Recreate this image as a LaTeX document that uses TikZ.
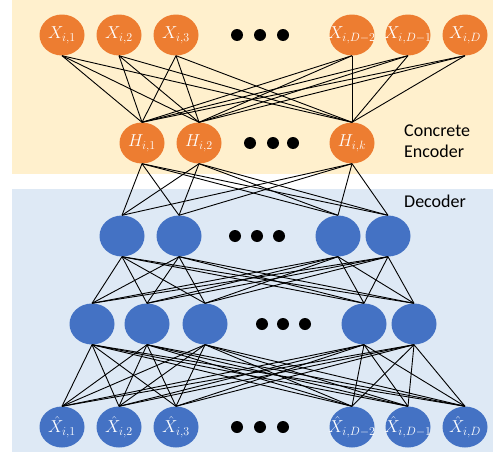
\documentclass[tikz,border=0pt]{standalone}
\usepackage{amsmath}
\usepackage{fontspec}
\setmainfont{Carlito}
\usepackage{tikz}
\usetikzlibrary{shapes,calc,positioning}
\definecolor{naranja}{RGB}{237, 125, 49}
\definecolor{azul}{RGB}{68, 114, 196}
\definecolor{fondoNaranja}{RGB}{255, 240, 205}
\definecolor{fondoAzul}{RGB}{222, 233, 245}
\tikzstyle{edge}  =[line width=0.9pt, black]
\tikzstyle{enode}=[ellipse, fill=naranja, minimum width=45pt,
                    minimum height=41pt, inner sep=0pt]
\tikzstyle{dnode}=[ellipse, fill=azul, minimum width=45pt,
                    minimum height=41pt, inner sep=0pt]
\tikzstyle{texto}=[inner sep=0pt, text=white,
                    font=\fontsize{17}{19}\selectfont]
\tikzstyle{punto}=[circle, fill=black, minimum size=12pt,
                    inner sep=0pt]
\tikzstyle{rotulo}=[anchor=north west, align=left, inner sep=0pt,
                    font=\fontsize{18}{21}\selectfont]

\begin{document}
\begin{tikzpicture}[x=1pt,y=-1pt]

    \useasboundingbox (0,0) rectangle (493,455);
    \fill[fondoNaranja] (12,0) rectangle (493,174);
    \fill[fondoAzul] (12,189) rectangle (493,452);

    % entrada
    \foreach \i/\x/\s in {1/62/1,2/119/2,3/176/3,4/352/D-2,5/408/D-1,6/465/D}{
        \draw (\x,35) node(x\i)[enode]{};
        \node (tx\i) [texto] at (x\i) {$X_{i,\s}$};
    }
    % capa concreta
    \foreach \i/\x/\s in {1/142/1,2/199/2,3/352/k}{
        \draw (\x,143) node(h\i)[enode]{};
        \node (th\i) [texto] at (h\i) {$H_{i,\s}$};
    }
    % decoder
    \foreach \i/\x in {1/122,2/179,3/338,4/388}
        \draw (\x,236) node(a\i)[dnode]{};
    \foreach \i/\x in {1/92,2/147,3/205,4/364,5/414}
        \draw (\x,324) node(b\i)[dnode]{};
    \foreach \i/\x/\s in {1/62/1,2/119/2,3/176/3,4/352/D-2,5/408/D-1,6/465/D}{
        \draw (\x,427) node(y\i)[dnode]{};
        \node (ty\i) [texto] at (y\i) {$\hat{X}_{i,\s}$};
    }

    % puntos
    \foreach \x in {237,260,283}
        \draw (\x,35) node(px\x)[punto]{};
    \foreach \x in {250,273,293}
        \draw (\x,143) node(ph\x)[punto]{};
    \foreach \x in {235,257,279}
        \draw (\x,236) node(pa\x)[punto]{};
    \foreach \x in {262,283,305}
        \draw (\x,324) node(pb\x)[punto]{};
    \foreach \x in {237,260,283}
        \draw (\x,427) node(py\x)[punto]{};

    \node (enc) [rotulo] at (404,125) {Concrete\\Encoder};
    \node (dec) [rotulo] at (404,195) {Decoder};

    % conexiones
    \foreach \i in {1,...,6}
        \foreach \j in {1,2,3}
            \draw [edge] (x\i.south) to (h\j.north);
    \foreach \i in {1,2,3}
        \foreach \j in {1,...,4}
            \draw [edge] (h\i.south) to (a\j.north);
    \foreach \i in {1,...,4}
        \foreach \j in {1,...,5}
            \draw [edge] (a\i.south) to (b\j.north);
    \foreach \i in {1,...,5}
        \foreach \j in {1,...,6}
            \draw [edge] (b\i.south) to (y\j.north);

\end{tikzpicture}
\end{document}
